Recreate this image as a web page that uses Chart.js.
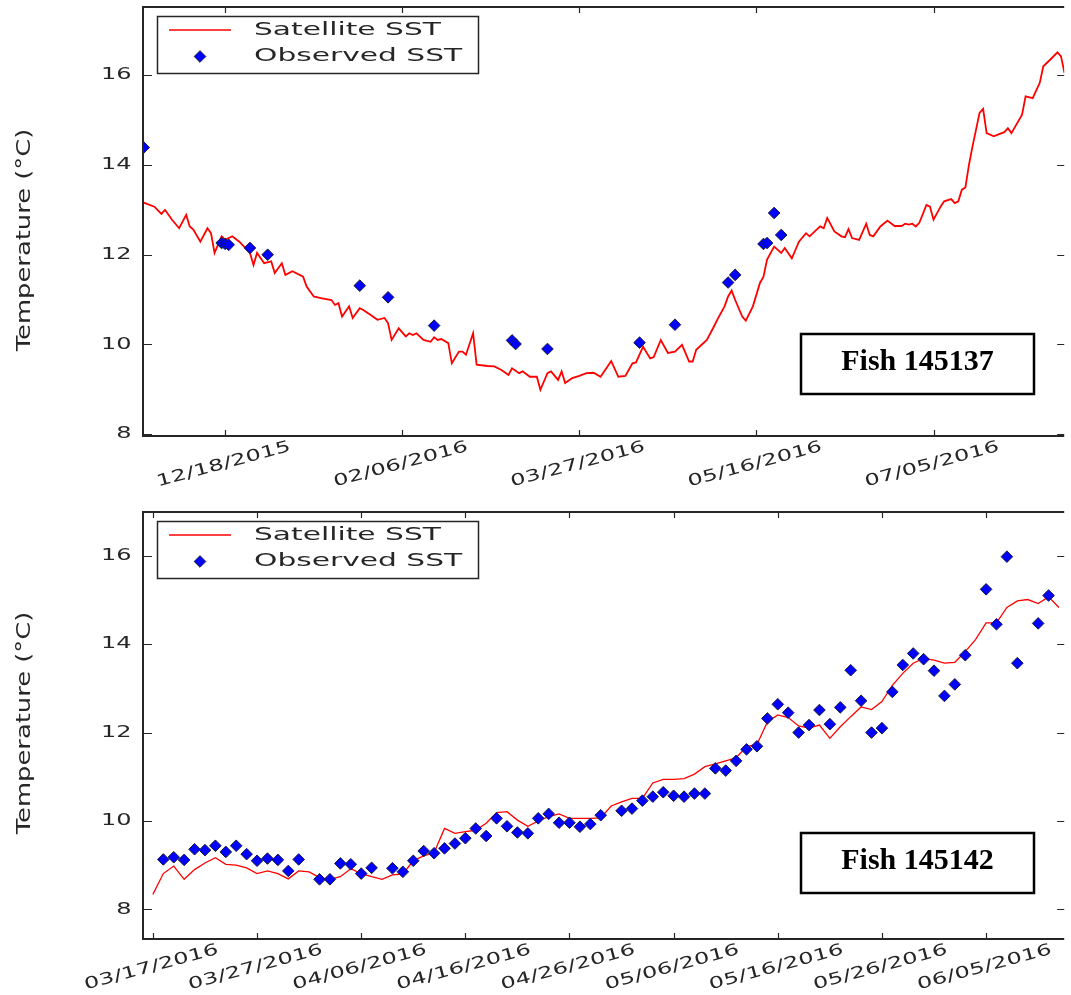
<!DOCTYPE html>
<html>
<head>
<meta charset="utf-8">
<title>Satellite vs observed SST</title>
<script src="https://cdn.jsdelivr.net/npm/chart.js@4.4.1/dist/chart.umd.min.js"></script>
<style>
  html, body { margin: 0; background: #fff; }
  #wrap { position: relative; width: 1071px; height: 995px; overflow: hidden; }
  canvas { position: absolute; left: 0; }
  #topChart { top: 0; }
  #bottomChart { top: 495px; }
</style>
</head>
<body>
<div id="wrap">
  <canvas id="topChart" width="1071" height="495"></canvas>
  <canvas id="bottomChart" width="1071" height="500"></canvas>
</div>
<script>
/* Fish 145137: x = days since 11/25/2015 */
const START_TOP = [2015, 11, 25];
const SAT_TOP_DAY = [0, 3, 5, 6, 8, 10, 12, 13, 14, 16, 18, 19, 20, 22, 23, 25, 27, 30, 31, 32,
  34, 36, 37, 39, 40, 42, 45, 46, 48, 50, 53, 54, 55, 56, 58, 59, 61, 62, 64, 66,
  68, 69, 70, 72, 74, 75, 76, 77, 79, 81, 82, 83, 84, 86, 87, 89, 90, 91, 93, 94,
  97, 99, 101, 103, 104, 106, 107, 109, 111, 112, 114, 115, 117, 118, 119, 121, 123, 125, 127, 129,
  132, 134, 136, 138, 139, 141, 143, 144, 146, 148, 150, 152, 154, 155, 156, 159, 161, 162, 164, 165,
  166, 167, 169, 170, 172, 174, 175, 176, 178, 180, 181, 183, 185, 187, 188, 190, 191, 192, 193, 195,
  197, 198, 199, 200, 202, 204, 205, 206, 208, 210, 212, 214, 215, 216, 217, 218, 219, 221, 222, 223,
  225, 226, 228, 229, 230, 231, 232, 233, 234, 236, 237, 238, 240, 241, 243, 244, 245, 248, 249, 251,
  253, 254, 256, 258, 259, 260];
const SAT_TOP_TEMP = [13.16, 13.07, 12.91, 13.00, 12.78, 12.59, 12.89, 12.63, 12.56, 12.29, 12.59, 12.48, 12.04, 12.41, 12.33, 12.41, 12.29, 12.04, 11.77, 12.04,
  11.81, 11.85, 11.59, 11.81, 11.55, 11.63, 11.51, 11.29, 11.07, 11.03, 10.99, 10.88, 10.92, 10.62, 10.85, 10.59, 10.81, 10.77, 10.66, 10.55,
  10.59, 10.47, 10.10, 10.36, 10.18, 10.25, 10.21, 10.25, 10.10, 10.06, 10.16, 10.10, 10.12, 10.03, 9.58, 9.84, 9.84, 9.77, 10.25, 9.55,
  9.52, 9.51, 9.43, 9.32, 9.47, 9.36, 9.40, 9.28, 9.28, 8.99, 9.36, 9.40, 9.21, 9.40, 9.14, 9.25, 9.30, 9.36, 9.37, 9.28,
  9.63, 9.28, 9.30, 9.58, 9.60, 9.95, 9.69, 9.72, 10.10, 9.81, 9.84, 9.99, 9.62, 9.62, 9.88, 10.10, 10.40, 10.56, 10.85, 11.07,
  11.20, 10.99, 10.62, 10.53, 10.85, 11.37, 11.51, 11.89, 12.18, 12.04, 12.15, 11.92, 12.29, 12.48, 12.41, 12.56, 12.63, 12.59, 12.82, 12.52,
  12.41, 12.39, 12.57, 12.37, 12.33, 12.69, 12.44, 12.41, 12.63, 12.76, 12.64, 12.64, 12.69, 12.67, 12.69, 12.63, 12.71, 13.11, 13.07, 12.78,
  13.07, 13.19, 13.24, 13.15, 13.19, 13.45, 13.50, 14.00, 14.41, 15.16, 15.25, 14.71, 14.64, 14.67, 14.73, 14.82, 14.71, 15.12, 15.53, 15.49,
  15.83, 16.20, 16.35, 16.51, 16.42, 16.05];
const OBS_TOP_DAY = [0, 22, 23, 24, 30, 35, 61, 69, 82, 104, 105, 114, 140, 150, 165, 167, 175, 176, 178, 180];
const OBS_TOP_TEMP = [14.39, 12.26, 12.24, 12.22, 12.15, 12.00, 11.31, 11.05, 10.42, 10.09, 10.01, 9.90, 10.04, 10.44, 11.38, 11.55, 12.24, 12.26, 12.93, 12.44];
const X_TICKS_TOP = [23, 73, 123, 173, 223];

/* Fish 145142: x = days since 03/17/2016 */
const START_BOTTOM = [2016, 3, 17];
// one satellite value per day, starting 03/17/2016
const SAT_BOTTOM_TEMP = [8.34, 8.81, 8.98, 8.68, 8.90, 9.05, 9.17, 9.02, 9.00, 8.94,
  8.81, 8.87, 8.81, 8.69, 8.87, 8.85, 8.72, 8.68, 8.74, 8.92,
  8.81, 8.74, 8.68, 8.78, 8.80, 9.10, 9.21, 9.28, 9.83, 9.72,
  9.76, 9.79, 9.95, 10.19, 10.21, 10.02, 9.88, 10.00, 10.10, 10.16,
  10.06, 10.06, 10.06, 10.07, 10.34, 10.43, 10.51, 10.51, 10.86, 10.94,
  10.94, 10.96, 11.06, 11.23, 11.29, 11.36, 11.43, 11.68, 11.73, 12.24,
  12.40, 12.34, 12.15, 12.10, 12.17, 11.87, 12.13, 12.36, 12.58, 12.52,
  12.70, 13.07, 13.34, 13.57, 13.68, 13.64, 13.57, 13.59, 13.83, 14.11,
  14.48, 14.48, 14.83, 14.98, 15.01, 14.92, 15.07, 14.83];
const OBS_BOTTOM_DAY = [1, 2, 3, 4, 5, 6, 7, 8, 9, 10, 11, 12, 13, 14, 16, 17, 18, 19, 20, 21,
  23, 24, 25, 26, 27, 28, 29, 30, 31, 32, 33, 34, 35, 36, 37, 38, 39, 40, 41, 42,
  43, 45, 46, 47, 48, 49, 50, 51, 52, 53, 54, 55, 56, 57, 58, 59, 60, 61, 62, 63,
  64, 65, 66, 67, 68, 69, 70, 71, 72, 73, 74, 75, 76, 77, 78, 80, 81, 82, 83, 85, 86];
const OBS_BOTTOM_TEMP = [9.13, 9.18, 9.12, 9.36, 9.34, 9.44, 9.30, 9.44, 9.25, 9.10, 9.15, 9.12, 8.87, 9.13, 8.68, 8.68, 9.04, 9.02, 8.81, 8.94,
  8.93, 8.85, 9.10, 9.32, 9.27, 9.38, 9.49, 9.61, 9.83, 9.66, 10.06, 9.88, 9.74, 9.72, 10.06, 10.16, 9.96, 9.96, 9.87, 9.93,
  10.13, 10.23, 10.28, 10.46, 10.55, 10.65, 10.57, 10.55, 10.62, 10.62, 11.19, 11.14, 11.36, 11.62, 11.69, 12.32, 12.64, 12.45, 12.00, 12.17,
  12.51, 12.19, 12.57, 13.41, 12.72, 12.00, 12.10, 12.92, 13.53, 13.79, 13.66, 13.40, 12.83, 13.09, 13.75, 15.24, 14.45, 15.98, 13.57, 14.47, 15.10];
const X_TICKS_BOTTOM = [0, 10, 20, 30, 40, 50, 60, 70, 80];

const Y_TICKS = [8, 10, 12, 14, 16];
const SERIES_LABELS = ['Satellite SST', 'Observed SST'];
const Y_TITLE = 'Temperature (°C)';

const RED = '#ff0000';
const BLUE = '#0000ff';
const INK = '#262626';
const FONT = '"DejaVu Sans", sans-serif';
const MARK_R = 5.8;

function fmtDate(start, d) {
  const t = new Date(Date.UTC(start[0], start[1] - 1, start[2]) + d * 864e5);
  const p = n => String(n).padStart(2, '0');
  return p(t.getUTCMonth() + 1) + '/' + p(t.getUTCDate()) + '/' + t.getUTCFullYear();
}

// the original figure's text is drawn wide, so stretch it along its baseline
function wideText(ctx, text, x, y, k, angle) {
  ctx.save();
  ctx.translate(x, y);
  if (angle) ctx.rotate(angle);
  ctx.scale(k, 1);
  ctx.fillText(text, 0, 0);
  ctx.restore();
}

function diamond(ctx, x, y, r) {
  ctx.beginPath();
  ctx.moveTo(x - r, y); ctx.lineTo(x, y - r); ctx.lineTo(x + r, y); ctx.lineTo(x, y + r);
  ctx.closePath();
  ctx.fillStyle = BLUE; ctx.fill();
  ctx.lineWidth = 1; ctx.strokeStyle = '#1b1b3a'; ctx.stroke();
}

// matplotlib-style frame: inward ticks, spines, labels, legend box and fish tag
const mplFrame = {
  id: 'mplFrame',
  afterDraw(chart, args, o) {
    const { ctx, chartArea: a, scales: { x, y } } = chart;
    ctx.save();

    ctx.strokeStyle = INK;
    ctx.lineWidth = 1.2;
    ctx.beginPath();
    o.xTicks.forEach(v => {
      const px = Math.round(x.getPixelForValue(v)) + 0.5;
      ctx.moveTo(px, a.top); ctx.lineTo(px, a.top + 6);
      ctx.moveTo(px, a.bottom); ctx.lineTo(px, a.bottom - 6);
    });
    Y_TICKS.forEach(v => {
      const py = Math.round(y.getPixelForValue(v)) + 0.5;
      ctx.moveTo(a.left, py); ctx.lineTo(a.left + 9, py);
      ctx.moveTo(a.right, py); ctx.lineTo(a.right - 7, py);
    });
    ctx.stroke();

    ctx.lineWidth = 2;
    ctx.beginPath();
    ctx.moveTo(a.right, a.top); ctx.lineTo(a.left, a.top);
    ctx.lineTo(a.left, a.bottom); ctx.lineTo(a.right, a.bottom);
    ctx.stroke();

    // tick labels
    ctx.fillStyle = INK;
    ctx.font = '16px ' + FONT;
    ctx.textBaseline = 'middle';
    ctx.textAlign = 'right';
    Y_TICKS.forEach(v => wideText(ctx, String(v), a.left - 11.5, y.getPixelForValue(v), 1.5));
    ctx.textAlign = 'center';
    o.xTicks.forEach(v => wideText(ctx, fmtDate(o.start, v), x.getPixelForValue(v) - 1.5, a.bottom + 28.5, 1.5, -Math.PI / 12));

    // axis title
    ctx.font = '20px ' + FONT;
    wideText(ctx, Y_TITLE, 25, o.titleY, 1.29, -Math.PI / 2);

    // legend
    const lx = a.left + 14.5, ly = a.top + 9.5;
    ctx.fillStyle = '#fff';
    ctx.fillRect(lx, ly, 321, 57);
    ctx.lineWidth = 1.5; ctx.strokeStyle = INK;
    ctx.strokeRect(lx, ly, 321, 57);
    const r1 = a.top + 23, r2 = a.top + 49.5;
    ctx.beginPath();
    ctx.moveTo(a.left + 26, r1); ctx.lineTo(a.left + 88, r1);
    ctx.lineWidth = 1.5; ctx.strokeStyle = RED; ctx.stroke();
    diamond(ctx, a.left + 57, r2, MARK_R);
    ctx.fillStyle = INK;
    ctx.font = '18px ' + FONT;
    ctx.textAlign = 'left';
    wideText(ctx, chart.data.datasets[0].label, a.left + 111, r1, 1.65);
    wideText(ctx, chart.data.datasets[1].label, a.left + 111, r2, 1.65);

    // fish id box
    const b = o.fishBox;
    ctx.fillStyle = '#fff';
    ctx.fillRect(b[0], b[1], b[2], b[3]);
    ctx.lineWidth = 2.5; ctx.strokeStyle = '#000';
    ctx.strokeRect(b[0], b[1], b[2], b[3]);
    ctx.fillStyle = '#000';
    ctx.font = 'bold 30px "Liberation Serif", "Times New Roman", serif';
    ctx.textAlign = 'center';
    ctx.fillText(o.fish, b[0] + b[2] / 2, b[1] + b[3] / 2 - 2);

    ctx.restore();
  }
};

function sstChart(id, sat, obs, o) {
  return new Chart(document.getElementById(id), {
    type: 'scatter',
    data: {
      datasets: [
        {
          label: SERIES_LABELS[0], data: sat, showLine: true, order: 2,
          borderColor: RED, borderWidth: o.lineWidth, pointRadius: 0, tension: 0
        },
        {
          label: SERIES_LABELS[1], data: obs, order: 1,
          pointStyle: 'rectRot', pointRadius: MARK_R,
          backgroundColor: BLUE, borderColor: '#1b1b3a', borderWidth: 1
        }
      ]
    },
    options: {
      responsive: false,
      animation: false,
      layout: { padding: o.padding },
      scales: {
        x: { type: 'linear', display: false, min: o.xMin, max: o.xMax },
        y: { display: false, min: o.yMin, max: o.yMax }
      },
      plugins: {
        legend: { display: false },
        tooltip: { enabled: false },
        mplFrame: o.frame
      }
    },
    plugins: [mplFrame]
  });
}

sstChart('topChart',
  SAT_TOP_DAY.map((d, i) => ({ x: d, y: SAT_TOP_TEMP[i] })),
  OBS_TOP_DAY.map((d, i) => ({ x: d, y: OBS_TOP_TEMP[i] })),
  {
    lineWidth: 1.8,
    padding: { left: 143, top: 7, right: 0, bottom: 59 },
    xMin: -0.2, xMax: 259.9, yMin: 7.96, yMax: 17.52,
    frame: { xTicks: X_TICKS_TOP, start: START_TOP, titleY: 240, fish: 'Fish 145137', fishBox: [801, 334, 233, 60] }
  });

sstChart('bottomChart',
  SAT_BOTTOM_TEMP.map((v, i) => ({ x: i, y: v })),
  OBS_BOTTOM_DAY.map((d, i) => ({ x: d, y: OBS_BOTTOM_TEMP[i] })),
  {
    lineWidth: 1.3,
    padding: { left: 143, top: 17, right: 0, bottom: 56 },
    xMin: -0.95, xMax: 87.5, yMin: 7.33, yMax: 16.99,
    frame: { xTicks: X_TICKS_BOTTOM, start: START_BOTTOM, titleY: 228, fish: 'Fish 145142', fishBox: [801, 338, 233, 60] }
  });
</script>
</body>
</html>
